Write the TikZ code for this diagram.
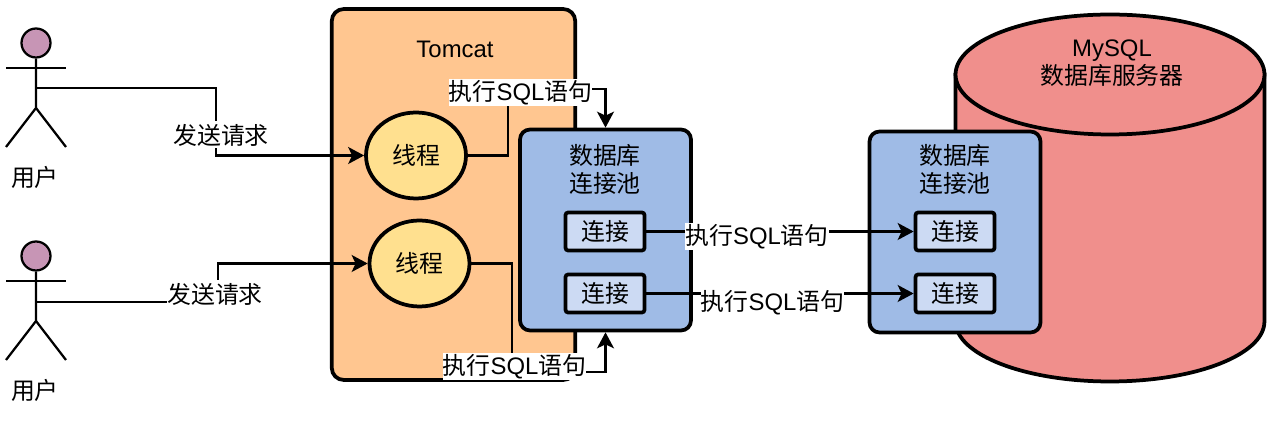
\documentclass[tikz,border=0pt]{standalone}
\usepackage{fontspec}
\setmainfont{Liberation Sans}
\newfontfamily\cjk{Noto Sans CJK SC}
\usepackage{xcolor}
\usepackage{tikz}
\usetikzlibrary{positioning, arrows.meta, shapes.geometric}

\definecolor{tomcatfill}{HTML}{FFC690}
\definecolor{threadfill}{HTML}{FFE08F}
\definecolor{poolfill}{HTML}{9FBBE6}
\definecolor{connfill}{HTML}{CCDAF3}
\definecolor{mysqlfill}{HTML}{F08F8C}
\definecolor{userfill}{HTML}{C795B5}

\newcommand{\threadtext}{\raisebox{-1pt}{\cjk 线程}}
\newcommand{\conntext}{\raisebox{-0.5pt}{\hspace{1pt}\cjk 连接}}
\newcommand{\runtext}{{\cjk 执行}SQL{\cjk 语句}}

\tikzset{
  txt/.style={font=\fontsize{13.6}{15.9}\selectfont, inner sep=0pt, align=center},
  box/.style={draw, line width=0.075cm, txt},
  threadnode/.style={box, ellipse, fill=threadfill,
                     minimum width=2cm, minimum height=1.72cm},
  poolnode/.style={box, rounded corners=0.2cm, fill=poolfill,
                   minimum width=3.42cm, minimum height=4.02cm},
  connnode/.style={box, rounded corners=1.5pt, fill=connfill,
                   minimum width=1.58cm, minimum height=0.76cm},
  link/.style={draw, line width=0.042cm,
               -{Stealth[length=0.32cm, width=0.34cm, inset=0.08cm]}},
  stick/.style={line width=0.045cm},
  tag/.style={txt, fill=white, minimum height=0.54cm},
}

\begin{document}
\begin{tikzpicture}[x=0.02cm, y=-0.02cm]

  \useasboundingbox (0, 0) rectangle (1274, 421);

  %% ── MySQL server ───────────────────────────────────────────
  \draw[line width=0.075cm, fill=mysqlfill]
    (955.5, 74.5) -- (955.5, 321.5)
    arc[start angle=180, end angle=360, x radius=3.09cm, y radius=1.2cm]
    -- (1264.5, 74.5) -- cycle;
  \draw[line width=0.075cm, fill=mysqlfill]
    (1110, 74.5) ellipse[x radius=3.09cm, y radius=1.2cm];
  \node[txt] (mysql) at (1112, 63) {MySQL\\{\cjk 数据库服务器}};

  %% ── Tomcat ─────────────────────────────────────────────────
  \node[box, rounded corners=0.24cm, fill=tomcatfill,
        minimum width=4.87cm, minimum height=7.42cm] (tomcat) at (453.5, 194.5) {};
  \node[txt] (tomcattitle) at (455, 49) {Tomcat};

  \node[threadnode] (threadA) at (416, 155.5) {\threadtext};
  \node[threadnode] (threadB) at (419.5, 263.5) {\threadtext};

  %% ── Connection pools ───────────────────────────────────────
  \node[poolnode] (poolA) at (605.5, 230) {};
  \node[txt] (poolAtitle) at (605, 169) {{\cjk 数据库}\\{\cjk 连接池}};
  \node[connnode] (connA) at (605, 231.5) {\conntext};
  \node[connnode] (connB) at (605, 293.5) {\conntext};

  \node[poolnode] (poolB) at (955, 232) {};
  \node[txt] (poolBtitle) at (955, 169) {{\cjk 数据库}\\{\cjk 连接池}};
  \node[connnode] (connC) at (955, 231.5) {\conntext};
  \node[connnode] (connD) at (955, 293.5) {\conntext};

  %% ── Users ──────────────────────────────────────────────────
  % User 1
  \def\yrow{43}
  \node[draw, circle, stick, fill=userfill, minimum size=0.58cm, inner sep=0pt]
    (userA) at (36, \yrow) {};
  \draw[stick] (userA.south) -- (36, \yrow+65) -- (6, \yrow+104);
  \draw[stick] (36, \yrow+65) -- (66, \yrow+104);
  \draw[stick] (6, \yrow+25) -- (66, \yrow+25);
  \coordinate (hipA) at (36, \yrow+45);
  \node[txt] (userAlabel) at (35, \yrow+134) {\cjk 用户};

  % User 2
  \def\yrow{256}
  \node[draw, circle, stick, fill=userfill, minimum size=0.58cm, inner sep=0pt]
    (userB) at (36, \yrow) {};
  \draw[stick] (userB.south) -- (36, \yrow+65) -- (6, \yrow+104);
  \draw[stick] (36, \yrow+65) -- (66, \yrow+104);
  \draw[stick] (6, \yrow+25) -- (66, \yrow+25);
  \coordinate (hipB) at (36, \yrow+46);
  \node[txt] (userBlabel) at (35, \yrow+134) {\cjk 用户};

  %% ── Connectors ─────────────────────────────────────────────
  \coordinate (bendA) at (216, 88);
  \coordinate (bendB) at (218, 302);
  \coordinate (bendC) at (508, 89);
  \coordinate (bendD) at (512, 372);

  \draw[link] (hipA) -- (bendA) |- (threadA.west);
  \draw[link] (hipB) -- (bendB) |- (threadB.west);
  \draw[link] (threadA.east) -| (bendC) -| (poolA.north);
  \draw[link] (threadB.east) -| (bendD) -| (poolA.south);
  \draw[link] (connA.east) -- (connC.west);
  \draw[link] (connB.east) -- (connD.west);

  %% ── Connector labels ───────────────────────────────────────
  \node[tag] (sendA) at (221, 135) {\cjk 发送请求};
  \node[tag] (sendB) at (215, 294) {\cjk 发送请求};
  \node[tag] (runA) at (520.5, 93) {\runtext};
  \node[tag] (runB) at (514.5, 367) {\runtext};
  \node[tag] (runC) at (757, 236.5) {\runtext};
  \node[tag] (runD) at (772.5, 303) {\runtext};

\end{tikzpicture}
\end{document}
